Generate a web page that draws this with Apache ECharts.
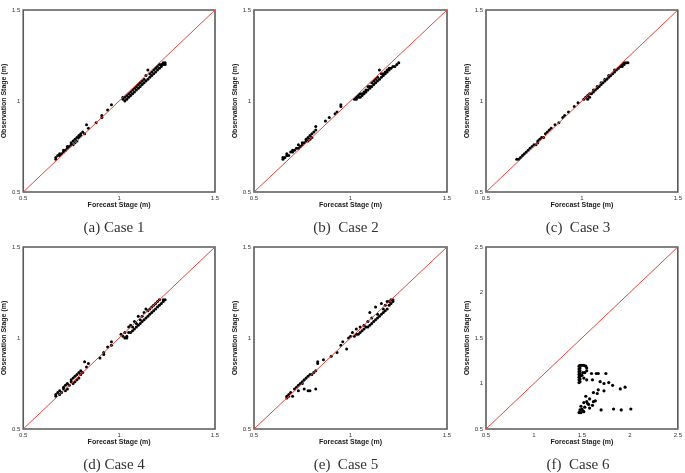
<!DOCTYPE html>
<html>
<head>
<meta charset="utf-8">
<script src="https://cdn.jsdelivr.net/npm/echarts@6/dist/echarts.min.js"></script>
<style>
  html, body { margin: 0; padding: 0; background: #fff; }
  #container { width: 685px; height: 473px; }
</style>
</head>
<body>
<div id="container"></div>
<script>
// 图下方的标题
var captions = ["(a) Case 1", "(b)  Case 2", "(c)  Case 3", "(d) Case 4", "(e)  Case 5", "(f)  Case 6"];

// 坐标轴范围 [min, max]
var ranges = [[0.5, 1.5], [0.5, 1.5], [0.5, 1.5], [0.5, 1.5], [0.5, 1.5], [0.5, 2.5]];

// 各工况的 [预测水位, 观测水位]
var case1 = [
  [0.67, 0.68], [0.67, 0.69], [0.68, 0.70], [0.69, 0.70], [0.69, 0.71], [0.70, 0.71], [0.71, 0.72],
  [0.71, 0.73], [0.72, 0.73], [0.73, 0.74], [0.73, 0.75], [0.74, 0.75], [0.75, 0.76], [0.75, 0.77],
  [0.76, 0.76], [0.76, 0.78], [0.77, 0.77], [0.77, 0.79], [0.78, 0.78], [0.78, 0.80], [0.79, 0.80],
  [0.79, 0.81], [0.80, 0.81], [0.80, 0.82], [0.81, 0.83], [0.82, 0.82], [0.83, 0.87], [0.84, 0.85],
  [0.88, 0.88], [0.91, 0.91], [0.91, 0.92], [0.94, 0.95], [0.96, 0.98],
  [1.02, 1.01], [1.02, 1.02], [1.03, 1.00], [1.03, 1.02], [1.04, 1.01], [1.04, 1.03], [1.05, 1.02],
  [1.05, 1.04], [1.06, 1.03], [1.06, 1.05], [1.07, 1.04], [1.07, 1.06], [1.08, 1.05], [1.08, 1.07],
  [1.09, 1.06], [1.09, 1.08], [1.10, 1.07], [1.10, 1.09], [1.11, 1.08], [1.11, 1.10], [1.12, 1.09],
  [1.12, 1.11], [1.13, 1.10], [1.13, 1.12], [1.14, 1.11], [1.14, 1.14], [1.15, 1.12], [1.15, 1.17],
  [1.16, 1.13], [1.16, 1.15], [1.17, 1.14], [1.17, 1.16], [1.18, 1.15], [1.18, 1.17], [1.19, 1.16],
  [1.19, 1.18], [1.20, 1.17], [1.20, 1.19], [1.21, 1.18], [1.21, 1.20], [1.22, 1.19], [1.22, 1.20],
  [1.23, 1.20], [1.23, 1.21], [1.24, 1.21], [1.24, 1.20]
];
var case2 = [
  [0.65, 0.68], [0.65, 0.69], [0.66, 0.69], [0.67, 0.70], [0.67, 0.71], [0.68, 0.70], [0.69, 0.72],
  [0.70, 0.72], [0.70, 0.73], [0.71, 0.73], [0.72, 0.74], [0.73, 0.74], [0.73, 0.76], [0.74, 0.75],
  [0.75, 0.76], [0.75, 0.77], [0.76, 0.77], [0.77, 0.78], [0.77, 0.79], [0.78, 0.78], [0.78, 0.80],
  [0.79, 0.79], [0.79, 0.81], [0.80, 0.80], [0.80, 0.82], [0.81, 0.83], [0.82, 0.84], [0.82, 0.86],
  [0.87, 0.89], [0.89, 0.91], [0.92, 0.93], [0.93, 0.94], [0.95, 0.97], [0.95, 0.98],
  [1.02, 1.01], [1.03, 1.02], [1.03, 1.01], [1.04, 1.02], [1.04, 1.03], [1.05, 1.02], [1.05, 1.04],
  [1.06, 1.03], [1.06, 1.04], [1.07, 1.04], [1.07, 1.05], [1.08, 1.05], [1.08, 1.06], [1.09, 1.06],
  [1.09, 1.08], [1.10, 1.07], [1.10, 1.08], [1.11, 1.08], [1.11, 1.10], [1.12, 1.09], [1.12, 1.11],
  [1.13, 1.10], [1.13, 1.12], [1.14, 1.11], [1.14, 1.13], [1.15, 1.12], [1.15, 1.17], [1.16, 1.13],
  [1.16, 1.15], [1.17, 1.14], [1.17, 1.15], [1.18, 1.15], [1.18, 1.16], [1.19, 1.16], [1.19, 1.17],
  [1.20, 1.17], [1.20, 1.18], [1.21, 1.18], [1.22, 1.19], [1.23, 1.19], [1.24, 1.20], [1.25, 1.21]
];
var case3 = [
  [0.66, 0.68], [0.67, 0.68], [0.68, 0.69], [0.69, 0.70], [0.70, 0.71], [0.71, 0.72], [0.72, 0.73],
  [0.73, 0.74], [0.74, 0.75], [0.75, 0.76], [0.76, 0.76], [0.77, 0.77], [0.77, 0.78], [0.78, 0.79],
  [0.79, 0.80], [0.80, 0.80], [0.81, 0.82], [0.82, 0.83], [0.83, 0.84], [0.84, 0.85],
  [0.86, 0.87], [0.88, 0.88], [0.90, 0.91], [0.91, 0.92], [0.93, 0.94], [0.96, 0.97], [0.98, 0.99],
  [1.01, 1.01], [1.02, 1.02], [1.03, 1.01], [1.03, 1.03], [1.04, 1.02], [1.04, 1.04], [1.05, 1.04],
  [1.06, 1.05], [1.06, 1.06], [1.07, 1.06], [1.08, 1.07], [1.08, 1.08], [1.09, 1.08], [1.10, 1.09],
  [1.10, 1.10], [1.11, 1.10], [1.12, 1.11], [1.12, 1.12], [1.13, 1.12], [1.14, 1.13], [1.14, 1.14],
  [1.15, 1.14], [1.16, 1.15], [1.17, 1.16], [1.17, 1.17], [1.18, 1.17], [1.19, 1.18], [1.20, 1.19],
  [1.21, 1.19], [1.21, 1.20], [1.22, 1.20], [1.23, 1.21], [1.24, 1.21], [1.22, 1.21]
];
var case4 = [
  [0.67, 0.68], [0.67, 0.69], [0.68, 0.70], [0.69, 0.69], [0.69, 0.71], [0.70, 0.70], [0.71, 0.72],
  [0.71, 0.73], [0.72, 0.71], [0.72, 0.74], [0.73, 0.72], [0.73, 0.75], [0.74, 0.74], [0.75, 0.76],
  [0.75, 0.77], [0.76, 0.75], [0.76, 0.78], [0.77, 0.76], [0.77, 0.79], [0.78, 0.77], [0.78, 0.80],
  [0.79, 0.78], [0.79, 0.81], [0.80, 0.80], [0.80, 0.82], [0.81, 0.81], [0.82, 0.87], [0.83, 0.84],
  [0.84, 0.86], [0.90, 0.89], [0.92, 0.92], [0.92, 0.91], [0.94, 0.95], [0.96, 0.98], [0.96, 0.96],
  [1.01, 1.02], [1.02, 1.01], [1.03, 1.00], [1.03, 1.03], [1.04, 1.01], [1.04, 1.00], [1.05, 1.03],
  [1.05, 1.06], [1.06, 1.03], [1.06, 1.07], [1.07, 1.04], [1.07, 1.06], [1.08, 1.05], [1.08, 1.09],
  [1.09, 1.06], [1.09, 1.08], [1.10, 1.07], [1.10, 1.12], [1.11, 1.08], [1.11, 1.10], [1.12, 1.09],
  [1.12, 1.12], [1.13, 1.10], [1.13, 1.14], [1.14, 1.11], [1.14, 1.16], [1.15, 1.12], [1.15, 1.15],
  [1.16, 1.13], [1.16, 1.16], [1.17, 1.14], [1.17, 1.17], [1.18, 1.15], [1.18, 1.18], [1.19, 1.16],
  [1.19, 1.19], [1.20, 1.17], [1.20, 1.20], [1.21, 1.18], [1.21, 1.21], [1.22, 1.19], [1.23, 1.20],
  [1.23, 1.21], [1.24, 1.21]
];
var case5 = [
  [0.67, 0.67], [0.67, 0.68], [0.68, 0.68], [0.68, 0.69], [0.69, 0.70], [0.70, 0.68], [0.71, 0.72],
  [0.72, 0.73], [0.73, 0.71], [0.73, 0.74], [0.74, 0.75], [0.75, 0.75], [0.75, 0.76], [0.76, 0.72],
  [0.76, 0.77], [0.77, 0.78], [0.78, 0.71], [0.78, 0.79], [0.79, 0.71], [0.79, 0.80], [0.80, 0.80],
  [0.81, 0.81], [0.82, 0.72], [0.82, 0.82], [0.83, 0.86], [0.83, 0.87], [0.86, 0.88], [0.90, 0.90],
  [0.93, 0.92], [0.95, 0.96], [0.96, 0.98], [0.98, 0.94], [0.99, 1.00], [1.00, 1.01], [1.01, 1.03],
  [1.02, 1.01], [1.03, 1.02], [1.03, 1.05], [1.04, 1.02], [1.05, 1.03], [1.05, 1.06], [1.06, 1.04],
  [1.07, 1.05], [1.07, 1.07], [1.08, 1.06], [1.09, 1.06], [1.09, 1.09], [1.10, 1.07], [1.10, 1.14],
  [1.11, 1.08], [1.11, 1.11], [1.12, 1.09], [1.13, 1.10], [1.13, 1.17], [1.14, 1.11], [1.14, 1.13],
  [1.15, 1.12], [1.16, 1.13], [1.16, 1.19], [1.17, 1.14], [1.17, 1.16], [1.18, 1.15], [1.18, 1.18],
  [1.19, 1.16], [1.19, 1.20], [1.20, 1.18], [1.20, 1.20], [1.21, 1.19], [1.21, 1.21], [1.22, 1.20],
  [1.22, 1.21]
];
var case6 = [
  [1.47, 1.01], [1.47, 1.04], [1.47, 1.07], [1.47, 1.10], [1.47, 1.13], [1.47, 1.16], [1.47, 1.19],
  [1.48, 1.02], [1.48, 1.05], [1.48, 1.08], [1.48, 1.11], [1.48, 1.14], [1.48, 1.17], [1.48, 1.20],
  [1.50, 1.20], [1.52, 1.20], [1.54, 1.19], [1.55, 1.17], [1.55, 1.14], [1.53, 1.12], [1.51, 1.12],
  [1.50, 1.09], [1.52, 1.06], [1.55, 1.04], [1.60, 1.11], [1.65, 1.11], [1.67, 1.11], [1.75, 1.11],
  [1.61, 1.04], [1.69, 1.02], [1.73, 1.00], [1.78, 1.01], [1.82, 0.98], [1.90, 0.94], [1.95, 0.96],
  [1.73, 0.92], [1.62, 0.90], [1.66, 0.89], [1.67, 0.93], [1.54, 0.86], [1.58, 0.83], [1.55, 0.80],
  [1.52, 0.79], [1.57, 0.77], [1.49, 0.75], [1.53, 0.74], [1.58, 0.73], [1.48, 0.71], [1.51, 0.70],
  [1.47, 0.68], [1.49, 0.68], [1.52, 0.69], [1.62, 0.80], [1.64, 0.81], [1.61, 0.76], [1.56, 0.78],
  [1.50, 0.72], [1.70, 0.71], [1.83, 0.72], [1.91, 0.71], [2.01, 0.72]
];

var cases = [case1, case2, case3, case4, case5, case6];

window.onload = function() {
  var myChart = echarts.init(document.getElementById("container"));

  // 六个子图的位置 (px)
  var lefts = [22, 254, 486];
  var tops = [10, 247];
  var grids = [], xAxes = [], yAxes = [], series = [], titles = [];

  for (var i = 0; i < 6; i++) {
    var col = i % 3, row = Math.floor(i / 3);
    var r = ranges[i];
    grids.push({
      left: lefts[col], top: tops[row], width: 193, height: 182,
      show: true, borderColor: "#5a5a5a", borderWidth: 1.6, backgroundColor: "#fff"
    });
    var axisCommon = {
      gridIndex: i, type: "value", min: r[0], max: r[1], interval: 0.5,
      nameLocation: "middle",
      nameTextStyle: { fontSize: 7, fontWeight: "bold", color: "#222", fontFamily: "Liberation Sans" },
      axisLine: { show: false }, axisTick: { show: false }, splitLine: { show: false },
      axisLabel: { fontSize: 6, color: "#333", margin: 3, fontFamily: "Liberation Sans" }
    };
    xAxes.push(Object.assign({}, axisCommon, { name: "Forecast Stage (m)", nameGap: 9 }));
    yAxes.push(Object.assign({}, axisCommon, { name: "Observation Stage (m)", nameGap: 12 }));

    series.push({
      type: "scatter", xAxisIndex: i, yAxisIndex: i, data: cases[i],
      symbol: "circle", symbolSize: i == 5 ? 3.2 : 3,
      itemStyle: { color: "#000", opacity: 1 }
    });
    // 1:1 参考线 (画在点上面)
    series.push({
      type: "line", xAxisIndex: i, yAxisIndex: i, data: [[r[0], r[0]], [r[1], r[1]]],
      symbol: "none", silent: true, z: 5,
      lineStyle: { color: "#e0473f", width: 1 }
    });

    titles.push({
      text: captions[i],
      left: lefts[col] + 87, top: tops[row] + 206,
      textAlign: "center",
      textStyle: { fontSize: 15, fontWeight: "normal", color: "#333", fontFamily: "Liberation Serif" }
    });
  }

  myChart.setOption({
    animation: false,
    title: titles,
    grid: grids,
    xAxis: xAxes,
    yAxis: yAxes,
    series: series
  });
};
</script>
</body>
</html>
